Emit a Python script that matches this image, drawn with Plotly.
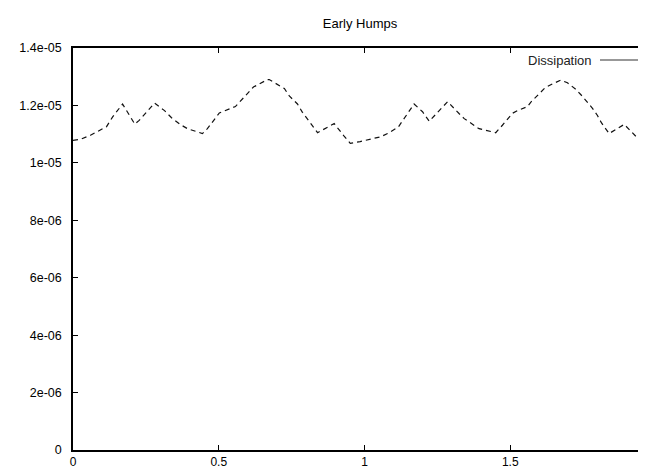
import plotly.graph_objects as go

# ---- data ----
x_vals = [0.0, 0.026, 0.060, 0.115, 0.136, 0.170, 0.212, 0.227, 0.280, 0.314,
          0.338, 0.369, 0.393, 0.444, 0.461, 0.502, 0.557, 0.592, 0.619, 0.667,
          0.673, 0.725, 0.742, 0.770, 0.787, 0.839, 0.896, 0.930, 0.951, 0.985,
          1.020, 1.056, 1.079, 1.116, 1.170, 1.199, 1.222, 1.285, 1.325, 1.342,
          1.393, 1.450, 1.473, 1.508, 1.525, 1.559, 1.570, 1.593, 1.620, 1.645,
          1.673, 1.696, 1.725, 1.748, 1.782, 1.799, 1.813, 1.839, 1.857, 1.891,
          1.954, 1.982, 2.0]
y_vals = [1.078e-05, 1.082e-05, 1.096e-05, 1.126e-05, 1.160e-05, 1.205e-05, 1.135e-05, 1.148e-05, 1.208e-05, 1.182e-05,
          1.157e-05, 1.133e-05, 1.119e-05, 1.102e-05, 1.119e-05, 1.174e-05, 1.196e-05, 1.233e-05, 1.264e-05, 1.290e-05,
          1.290e-05, 1.259e-05, 1.233e-05, 1.205e-05, 1.176e-05, 1.105e-05, 1.137e-05, 1.093e-05, 1.068e-05, 1.074e-05,
          1.082e-05, 1.091e-05, 1.102e-05, 1.125e-05, 1.205e-05, 1.178e-05, 1.145e-05, 1.213e-05, 1.171e-05, 1.154e-05,
          1.119e-05, 1.105e-05, 1.131e-05, 1.173e-05, 1.182e-05, 1.196e-05, 1.211e-05, 1.233e-05, 1.262e-05, 1.275e-05,
          1.288e-05, 1.279e-05, 1.256e-05, 1.231e-05, 1.190e-05, 1.165e-05, 1.139e-05, 1.102e-05, 1.114e-05, 1.134e-05,
          1.068e-05, 1.074e-05, 1.078e-05]
series_name = "Dissipation"
title_text = "Early Humps"
y_tickvals = [0, 2e-06, 4e-06, 6e-06, 8e-06, 1e-05, 1.2e-05, 1.4e-05]
y_ticktext = ["0", "2e-06", "4e-06", "6e-06", "8e-06", "1e-05", "1.2e-05", "1.4e-05"]
x_tickvals = [0, 0.5, 1, 1.5, 2]
x_ticktext = ["0", "0.5", "1", "1.5", "2"]

FONT = "Liberation Sans, Arial, sans-serif"
Y_RANGE = [0, 1.4e-05]

fig = go.Figure()
fig.add_trace(go.Scatter(
    x=x_vals, y=y_vals, mode="lines", name=series_name,
    line=dict(color="#111111", width=1.2, dash="5px,4px"),
    showlegend=False,
))
# invisible helper trace so the right-hand (mirrored) tick axis is drawn
fig.add_trace(go.Scatter(x=[x_vals[0]], y=[y_vals[0]], yaxis="y2", mode="lines",
                         line=dict(width=0), hoverinfo="skip", showlegend=False))

tickfont = dict(family=FONT, size=12.5, color="black")

fig.update_layout(
    width=646, height=470,
    margin=dict(l=65, r=0, t=40, b=28),
    paper_bgcolor="white", plot_bgcolor="white",
    title=dict(text=title_text, x=0.545, xanchor="center", y=0.968, yanchor="middle",
               font=dict(family=FONT, size=13, color="black")),
    xaxis=dict(range=[0, 1.993], tickvals=x_tickvals, ticktext=x_ticktext,
               showline=True, linecolor="black", linewidth=1.5, mirror="ticks",
               ticks="inside", ticklen=5, tickwidth=1, tickcolor="black",
               showgrid=False, zeroline=False, automargin=False,
               tickfont=dict(family=FONT, size=12, color="black")),
    yaxis=dict(range=Y_RANGE, tickvals=y_tickvals, ticktext=y_ticktext,
               showline=True, linecolor="black", linewidth=1.5, mirror=False,
               ticks="inside", ticklen=5, tickwidth=1, tickcolor="black",
               showgrid=False, zeroline=False, automargin=False,
               tickfont=tickfont, ticklabelstandoff=7),
    yaxis2=dict(range=Y_RANGE, tickvals=y_tickvals, overlaying="y", side="right",
                showline=False, ticks="inside", ticklen=5, tickwidth=1, tickcolor="black",
                showticklabels=False, showgrid=False, zeroline=False),
)

# gnuplot-style key: text then line sample
fig.add_annotation(xref="paper", yref="paper", x=0.897, y=0.970, xanchor="right", yanchor="middle",
                   text=series_name, showarrow=False,
                   font=dict(family=FONT, size=13, color="#222222"))
fig.add_shape(type="line", xref="paper", yref="paper", x0=0.907, x1=0.980, y0=0.970, y1=0.970,
              line=dict(color="#333333", width=1.1))

fig.write_html("out.html")
